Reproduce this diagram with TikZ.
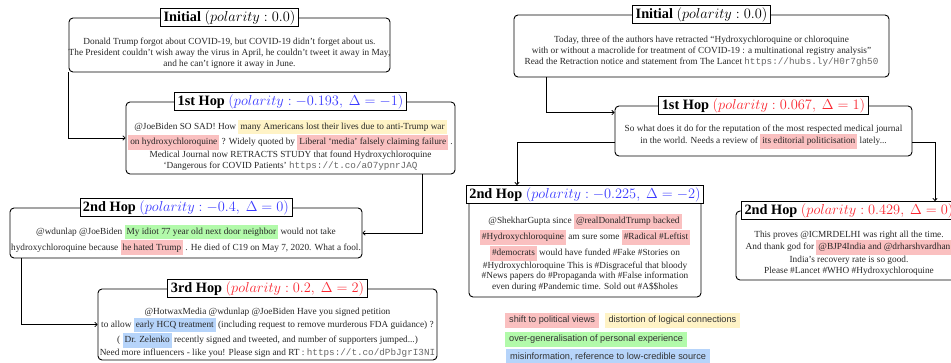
\documentclass[tikz,border=0pt]{standalone}
\usepackage{fontspec}
\setmainfont{Liberation Serif}
\setmonofont{Liberation Mono}
\newfontfamily\legendfont{Liberation Sans}
\usetikzlibrary{arrows.meta}
\definecolor{hlred}{RGB}{250,192,192}
\definecolor{hlyellow}{RGB}{255,243,198}
\definecolor{hlgreen}{RGB}{178,250,170}
\definecolor{hlblue}{RGB}{182,212,250}
\definecolor{polblue}{RGB}{60,60,255}
\definecolor{polred}{RGB}{250,40,50}
\setlength{\fboxsep}{2pt}
\newcommand\hlt[2]{\colorbox{#1}{\strut #2}}
\newcommand\bodyfont{\fontsize{9.3}{10.8}\selectfont}
\newcommand\lnk[1]{\textcolor{black!60}{\texttt{#1}}}
\begin{document}
\begin{tikzpicture}[x=1pt,y=-1pt,
  box/.style={draw, rounded corners=4pt, line width=0.9pt, inner sep=0pt},
  title/.style={draw, fill=white, line width=0.9pt, inner xsep=3pt, inner ysep=2pt, font=\fontsize{14.3}{16}\selectfont},
  body/.style={align=center, font=\bodyfont, text=black!85, inner sep=0pt},
  conn/.style={line width=0.8pt, -{To[length=3pt,width=5pt]}},
  legend/.style={anchor=west, font=\legendfont\fontsize{9.2}{11}\selectfont, text=black!80, inner xsep=4pt, minimum height=15pt, inner ysep=0pt}]
\useasboundingbox (0,0) rectangle (951,363);
\clip (0,0) rectangle (951,363);

% ---------- left column ----------
\node[box, minimum width=321pt, minimum height=54pt] (bLI) at (229.5,45) {};
\node[title] (hLI) at (bLI.north) {\textbf{Initial} $(polarity : 0.0)$};
\node[body] (tLI) at (229.5,53) {Donald Trump forgot about COVID-19, but COVID-19 didn't forget about us.\\The President couldn't wish away the virus in April, he couldn't tweet it away in May,\\and he can't ignore it away in June.};

\node[box, minimum width=329pt, minimum height=72pt] (bL1) at (290.5,138) {};
\node[title] (hL1) at (bL1.north) {\textbf{1st Hop} \textcolor{polblue}{$(polarity : -0.193,\ \Delta = -1)$}};
\node[body] (tL1) at (290.5,145) {@JoeBiden SO SAD! How \hlt{hlyellow}{many Americans lost their lives due to anti-Trump war}\\\hlt{hlred}{on hydroxychloroquine} ? Widely quoted by \hlt{hlred}{Liberal `media' falsely claiming failure} .\\Medical Journal now RETRACTS STUDY that found Hydroxychloroquine\\`Dangerous for COVID Patients' \lnk{https://t.co/aO7ypnrJAQ}};

\node[box, minimum width=352pt, minimum height=50pt] (bL2) at (186,233) {};
\node[title] (hL2) at (bL2.north) {\textbf{2nd Hop} \textcolor{polblue}{$(polarity : -0.4,\ \Delta = 0)$}};
\node[body] (tL2) at (186,240) {@wdunlap @JoeBiden \hlt{hlgreen}{My idiot 77 year old next door neighbor} would not take\\hydroxychloroquine because \hlt{hlred}{he hated Trump} . He died of C19 on May 7, 2020. What a fool.};

\node[box, minimum width=339pt, minimum height=71pt] (bL3) at (267.5,324.5) {};
\node[title] (hL3) at (bL3.north) {\textbf{3rd Hop} \textcolor{polred}{$(polarity : 0.2,\ \Delta = 2)$}};
\node[body] (tL3) at (267.5,333) {@HotwaxMedia @wdunlap @JoeBiden Have you signed petition\\to allow \hlt{hlblue}{early HCQ treatment} (including request to remove murderous FDA guidance) ?\\( \hlt{hlblue}{Dr. Zelenko} recently signed and tweeted, and number of supporters jumped...)\\Need more influencers - like you! Please sign and RT : \lnk{https://t.co/dPbJgrI3NI}};

\draw[conn] (bLI.south west) |- (bL1.west);
\draw[conn] ([xshift=-33pt]bL1.south east) |- (bL2.east);
\draw[conn] ([xshift=12pt]bL2.south west) |- (bL3.west);

% ---------- right column ----------
\node[box, minimum width=375pt, minimum height=62pt] (bRI) at (701.5,46) {};
\node[title] (hRI) at (bRI.north) {\textbf{Initial} $(polarity : 0.0)$};
\node[body] (tRI) at (701.5,51) {Today, three of the authors have retracted ``Hydroxychloroquine or chloroquine\\with or without a macrolide for treatment of COVID-19 : a multinational registry analysis''\\Read the Retraction notice and statement from The Lancet \lnk{https://hubs.ly/H0r7gh50}};

\node[box, minimum width=297pt, minimum height=50pt] (bR1) at (763.5,131) {};
\node[title] (hR1) at (bR1.north) {\textbf{1st Hop} \textcolor{polred}{$(polarity : 0.067,\ \Delta = 1)$}};
\node[body] (tR1) at (763.5,137) {So what does it do for the reputation of the most respected medical journal\\in the world. Needs a review of \hlt{hlred}{its editorial politicisation} lately...};

\node[box, minimum width=232pt, minimum height=102pt] (bR2L) at (585,246) {};
\node[title] (hR2L) at (bR2L.north) {\textbf{2nd Hop} \textcolor{polblue}{$(polarity : -0.225,\ \Delta = -2)$}};
\node[body] (tR2L) at (585,253) {@ShekharGupta since \hlt{hlred}{@realDonaldTrump backed}\\\hlt{hlred}{\#Hydroxychloroquine} am sure some \hlt{hlred}{\#Radical \#Leftist}\\\hlt{hlred}{\#democrats} would have funded \#Fake \#Stories on\\\#Hydroxychloroquine This is \#Disgraceful that bloody\\\#News papers do \#Propaganda with \#False information\\even during \#Pandemic time. Sold out \#A\$\$holes};

\node[box, minimum width=226pt, minimum height=69pt] (bR2R) at (849,245.5) {};
\node[title] (hR2R) at (bR2R.north) {\textbf{2nd Hop} \textcolor{polred}{$(polarity : 0.429,\ \Delta = 0)$}};
\node[body] (tR2R) at (849,253) {This proves @ICMRDELHI was right all the time.\\And thank god for \hlt{hlred}{@BJP4India and @drharshvardhan}\\India's recovery rate is so good.\\Please \#Lancet \#WHO \#Hydroxychloroquine};

\draw[conn] ([xshift=33pt]bRI.south west) |- ([yshift=-7pt]bR1.north west);
\draw[conn] ([yshift=-11pt]bR1.west) -| ([xshift=-68pt]hR2L.north);
\draw[conn] ([yshift=-11pt]bR1.east) -| ([xshift=86pt]hR2R.north);

% ---------- legend ----------
\node[legend, fill=hlred] (lg1) at (505,320.5) {shift to political views};
\node[legend, fill=hlyellow] (lg2) at ([xshift=5pt]lg1.east) {distortion of logical connections};
\node[legend, fill=hlgreen] (lg3) at (505,339.5) {over-generalisation of personal experience};
\node[legend, fill=hlblue] (lg4) at (506,357) {misinformation, reference to low-credible source};
\end{tikzpicture}
\end{document}
